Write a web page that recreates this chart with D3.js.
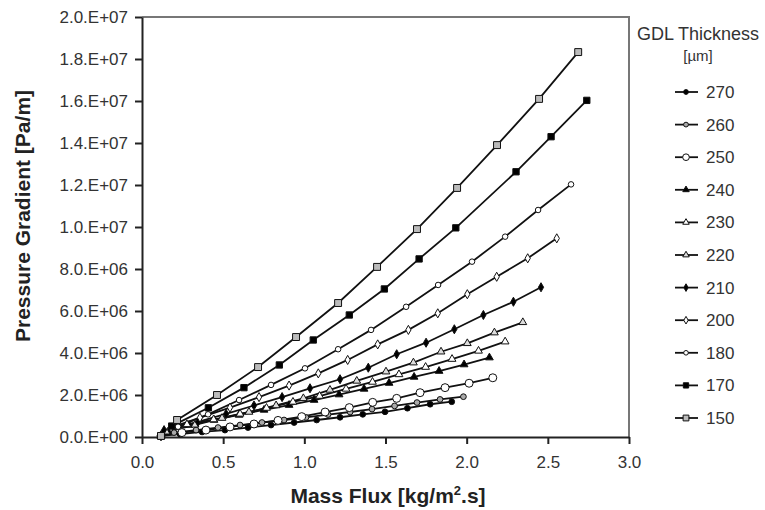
<!DOCTYPE html>
<html><head><meta charset="utf-8">
<script src="https://cdn.jsdelivr.net/npm/d3@7"></script>
<style>
html,body{margin:0;padding:0;background:#fff;}
svg{display:block;font-family:Arial,"Liberation Sans",sans-serif;}
</style></head>
<body><svg id="c" width="765" height="510"></svg>
<script>
// ---- data (mass flux [kg/m2.s], pressure gradient [Pa/m]) ----
const thickness = ["270","260","250","240","230","220","210","200","180","170","150"];
const s270 = [[0.117,0.05e6],[0.234,0.14e6],[0.370,0.24e6],[0.511,0.33e6],[0.653,0.45e6],[0.795,0.57e6],[0.937,0.69e6],[1.076,0.81e6],[1.220,0.94e6],[1.360,1.08e6],[1.497,1.20e6],[1.635,1.37e6],[1.775,1.56e6],[1.908,1.68e6]];
const s260 = [[0.117,0.05e6],[0.197,0.21e6],[0.333,0.33e6],[0.468,0.45e6],[0.604,0.57e6],[0.739,0.69e6],[0.875,0.81e6],[1.010,0.93e6],[1.146,1.07e6],[1.282,1.19e6],[1.417,1.33e6],[1.556,1.48e6],[1.694,1.64e6],[1.836,1.79e6],[1.980,1.92e6]];
const s250 = [[0.117,0.05e6],[0.246,0.21e6],[0.394,0.33e6],[0.542,0.48e6],[0.690,0.62e6],[0.838,0.79e6],[0.984,0.97e6],[1.128,1.19e6],[1.277,1.40e6],[1.421,1.65e6],[1.569,1.84e6],[1.713,2.11e6],[1.867,2.35e6],[2.015,2.56e6],[2.161,2.82e6]];
const s240 = [[0.117,0.05e6],[0.136,0.33e6],[0.290,0.57e6],[0.444,0.81e6],[0.598,1.05e6],[0.752,1.29e6],[0.906,1.52e6],[1.060,1.76e6],[1.214,2.02e6],[1.368,2.29e6],[1.522,2.57e6],[1.676,2.86e6],[1.830,3.14e6],[1.984,3.45e6],[2.140,3.78e6]];
const s230 = [[0.117,0.05e6],[0.277,0.60e6],[0.441,0.83e6],[0.604,1.10e6],[0.767,1.38e6],[0.930,1.67e6],[1.094,1.95e6],[1.257,2.29e6],[1.420,2.62e6],[1.583,2.98e6],[1.747,3.33e6],[1.910,3.71e6],[2.073,4.10e6],[2.237,4.54e6]];
const s220 = [[0.117,0.05e6],[0.160,0.25e6],[0.327,0.58e6],[0.493,0.90e6],[0.659,1.19e6],[0.826,1.50e6],[0.994,1.84e6],[1.158,2.24e6],[1.323,2.67e6],[1.503,3.11e6],[1.672,3.54e6],[1.842,4.06e6],[2.004,4.46e6],[2.171,4.97e6],[2.346,5.46e6]];
const s210 = [[0.117,0.05e6],[0.173,0.35e6],[0.345,0.72e6],[0.518,1.10e6],[0.690,1.50e6],[0.863,1.90e6],[1.035,2.32e6],[1.220,2.75e6],[1.394,3.30e6],[1.569,3.94e6],[1.750,4.49e6],[1.924,5.13e6],[2.103,5.81e6],[2.288,6.44e6],[2.458,7.13e6]];
const s200 = [[0.117,0.05e6],[0.179,0.45e6],[0.357,0.92e6],[0.542,1.40e6],[0.721,1.90e6],[0.906,2.45e6],[1.086,3.03e6],[1.267,3.67e6],[1.452,4.41e6],[1.641,5.10e6],[1.822,5.89e6],[2.004,6.80e6],[2.185,7.63e6],[2.376,8.51e6],[2.555,9.46e6]];
const s180 = [[0.117,0.05e6],[0.222,0.49e6],[0.407,1.08e6],[0.598,1.76e6],[0.795,2.48e6],[1.004,3.27e6],[1.208,4.18e6],[1.411,5.10e6],[1.627,6.20e6],[1.824,7.24e6],[2.033,8.35e6],[2.237,9.54e6],[2.440,10.81e6],[2.643,12.03e6]];
const s170 = [[0.117,0.05e6],[0.183,0.52e6],[0.409,1.39e6],[0.628,2.35e6],[0.846,3.43e6],[1.055,4.62e6],[1.277,5.81e6],[1.493,7.05e6],[1.707,8.48e6],[1.933,9.96e6],[2.304,12.63e6],[2.520,14.30e6],[2.740,16.03e6]];
const s150 = [[0.117,0.05e6],[0.216,0.81e6],[0.462,2.00e6],[0.715,3.33e6],[0.949,4.76e6],[1.208,6.38e6],[1.448,8.10e6],[1.694,9.90e6],[1.941,11.86e6],[2.187,13.90e6],[2.446,16.10e6],[2.687,18.33e6]];
const seriesValues = [s270,s260,s250,s240,s230,s220,s210,s200,s180,s170,s150];
const xTicks = [0,0.5,1,1.5,2,2.5,3];
const xTickLabels = ["0.0","0.5","1.0","1.5","2.0","2.5","3.0"];
const yTicks = [0,2e6,4e6,6e6,8e6,10e6,12e6,14e6,16e6,18e6,20e6];
const yTickLabels = ["0.0.E+00","2.0.E+06","4.0.E+06","6.0.E+06","8.0.E+06","1.0.E+07","1.2.E+07","1.4.E+07","1.6.E+07","1.8.E+07","2.0.E+07"];

// ---- marker styles ----
const markerType = [d3.symbolCircle,d3.symbolCircle,d3.symbolCircle,d3.symbolTriangle,d3.symbolTriangle,d3.symbolTriangle,d3.symbolDiamond,d3.symbolDiamond,d3.symbolCircle,d3.symbolSquare,d3.symbolSquare];
const markerFill = ["#000","#aaa","#fff","#000","#fff","#ddd","#000","#fff","#fff","#000","#bbb"];
const markerSize = [26,26,50,26,26,26,24,24,24,40,48];

const svg = d3.select("#c");
svg.append("rect").attr("width",765).attr("height",510).attr("fill","#fff");
const L=142,R=629,T=17,B=437;
const x = d3.scaleLinear().domain([0,3]).range([L,R]);
const y = d3.scaleLinear().domain([0,2e7]).range([B,T]);

// frame (top/right)
svg.append("path").attr("d",`M${L},${T}H${R}V${B}`).attr("fill","none").attr("stroke","#777").attr("stroke-width",2);

// axes
const yAx = svg.append("g").attr("transform",`translate(${L},0)`)
  .call(d3.axisLeft(y).tickValues(yTicks).tickFormat((d,i)=>yTickLabels[i]).tickSize(7).tickSizeOuter(0).tickPadding(7));
const xAx = svg.append("g").attr("transform",`translate(0,${B})`)
  .call(d3.axisBottom(x).tickValues(xTicks).tickFormat((d,i)=>xTickLabels[i]).tickSize(7).tickSizeOuter(0).tickPadding(12));
[yAx,xAx].forEach(g=>{
  g.select(".domain").attr("stroke","#222").attr("stroke-width",2);
  g.selectAll(".tick line").attr("stroke","#222").attr("stroke-width",2);
  g.selectAll(".tick text").attr("font-size",17).attr("fill","#333").attr("font-family","Arial,'Liberation Sans',sans-serif");
});

// axis titles
svg.append("text").attr("x",388).attr("y",503).attr("text-anchor","middle")
  .attr("font-size",21).attr("font-weight","bold").attr("fill","#222")
  .html('Mass Flux [kg/m<tspan dy="-8" font-size="13">2</tspan><tspan dy="8">.s]</tspan>');
svg.append("text").attr("transform","translate(30,216) rotate(-90)").attr("text-anchor","middle")
  .attr("font-size",21).attr("font-weight","bold").attr("fill","#222").text("Pressure Gradient [Pa/m]");

// series
const line = d3.line().x(d=>x(d[0])).y(d=>y(d[1]));
const plot = svg.append("g");
seriesValues.forEach((vals,i)=>{
  plot.append("path").datum(vals).attr("d",line).attr("fill","none").attr("stroke","#111").attr("stroke-width",1.8);
});
seriesValues.forEach((vals,i)=>{
  plot.selectAll(null).data(vals).join("path")
    .attr("transform",d=>`translate(${x(d[0])},${y(d[1])})`)
    .attr("d",d3.symbol().type(markerType[i]).size(markerSize[i]))
    .attr("fill",markerFill[i]).attr("stroke","#111").attr("stroke-width",1);
});

// legend
const lg = svg.append("g");
lg.append("text").attr("x",698).attr("y",40).attr("text-anchor","middle").attr("font-size",18).attr("fill","#333").text("GDL Thickness");
lg.append("text").attr("x",698).attr("y",61).attr("text-anchor","middle").attr("font-size",15).attr("fill","#333").text("[µm]");
thickness.forEach((t,i)=>{
  const yy = 92 + i*32.6;
  lg.append("line").attr("x1",675).attr("x2",698).attr("y1",yy).attr("y2",yy).attr("stroke","#111").attr("stroke-width",1.8);
  lg.append("path").attr("transform",`translate(686,${yy})`)
    .attr("d",d3.symbol().type(markerType[i]).size(markerSize[i]*0.7))
    .attr("fill",markerFill[i]).attr("stroke","#111").attr("stroke-width",1);
  lg.append("text").attr("x",706).attr("y",yy).attr("dy","0.35em").attr("font-size",17).attr("fill","#333").text(t);
});
</script></body></html>
